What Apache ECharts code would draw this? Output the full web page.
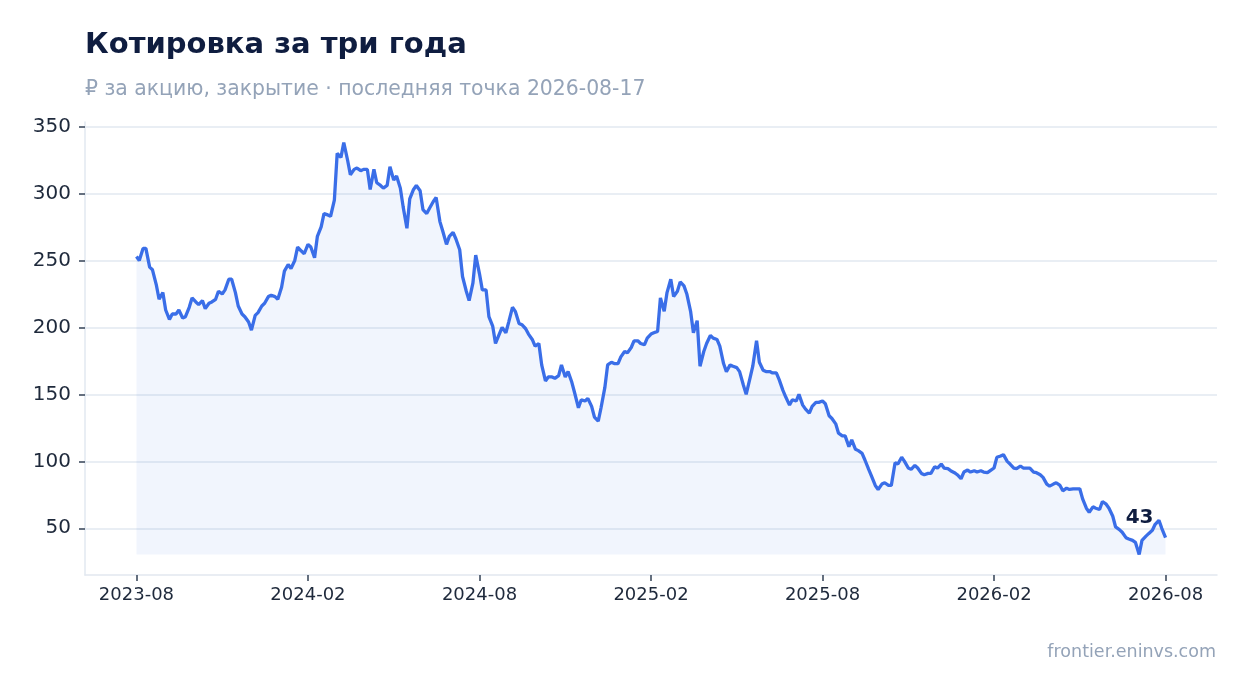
<!DOCTYPE html>
<html>
<head>
<meta charset="utf-8">
<title>Котировка за три года</title>
<script src="https://cdn.jsdelivr.net/npm/echarts@6.0.0/dist/echarts.min.js"></script>
<style>
  html, body { margin: 0; padding: 0; background: #ffffff; }
  #chart { width: 1247px; height: 693px; }
</style>
</head>
<body>
<div id="chart"></div>
<script>
// первая точка ряда, дальше замеры по понедельникам и четвергам
var startDate = [2023, 7, 21];

// цена закрытия, ₽ за акцию
var prices = [
  253, 250, 259, 259, 245, 243, 232, 221, 226, 213,
  206, 210, 210, 213, 207, 208, 215, 222, 219, 217,
  220, 214, 218, 219, 221, 227, 225, 228, 236, 236,
  226, 216, 210, 208, 204, 198, 209, 211, 216, 218,
  223, 224, 223, 221, 230, 242, 247, 244, 250, 260,
  257, 255, 262, 260, 252, 268, 275, 285, 284, 283,
  295, 330, 327, 338, 325, 314, 318, 319, 317, 318,
  318, 303, 318, 308, 306, 304, 306, 320, 310, 313,
  304, 290, 274, 296, 303, 306, 302, 288, 285, 289,
  294, 297, 279, 272, 262, 268, 271, 266, 258, 238,
  227, 220, 233, 254, 240, 228, 228, 208, 201, 188,
  195, 200, 196, 204, 215, 212, 203, 202, 199, 195,
  191, 186, 188, 172, 160, 163, 163, 162, 164, 172,
  163, 167, 159, 151, 140, 146, 145, 147, 141, 133,
  130, 140, 155, 172, 174, 173, 173, 178, 182, 181,
  185, 190, 190, 188, 187, 192, 195, 196, 197, 222,
  212, 226, 236, 223, 227, 234, 231, 225, 212, 196,
  205, 171, 182, 188, 194, 192, 191, 186, 173, 167,
  172, 171, 170, 167, 157, 150, 162, 171, 190, 174,
  168, 167, 167, 166, 166, 161, 153, 148, 142, 146,
  145, 150, 142, 139, 136, 141, 144, 144, 145, 143,
  134, 132, 128, 121, 119, 119, 111, 116, 109, 108,
  106, 101, 94, 89, 82, 79, 83, 84, 82, 82,
  99, 98, 103, 100, 95, 94, 97, 95, 91, 90,
  91, 91, 96, 95, 98, 95, 94.5, 93, 91.5, 90,
  87, 92, 93.5, 92, 93, 92, 93, 92, 91.5, 93,
  95, 103, 104, 105, 100, 98, 95, 94.5, 96.5, 95,
  95, 95, 92, 91.5, 90, 88, 83, 81.5, 83, 84,
  82, 78, 80, 79, 79.5, 79.5, 79.5, 72, 65, 62,
  66, 65, 64, 70, 68, 65, 59, 51, 49, 47,
  43, 42, 41, 39.5, 30.5, 41, 44, 46, 48.5, 53,
  56, 50, 43
];

// подписи оси X стоят через каждые 26 недель от первой точки
var xTickIndex = [0, 52, 104, 156, 208, 260, 312];
var yTicks = [50, 100, 150, 200, 250, 300, 350];

var DAY = 24 * 3600 * 1000;
var t0 = Date.UTC(startDate[0], startDate[1], startDate[2]);
var dates = prices.map(function (p, i) {
  return t0 + (Math.floor(i / 2) * 7 + (i % 2 ? 3 : 0)) * DAY;
});
var points = prices.map(function (p, i) { return [dates[i], p]; });
var xTicks = xTickIndex.map(function (i) { return dates[i]; });
var last = points[points.length - 1];
var floorValue = Math.min.apply(null, prices);

function monthLabel(v) {
  var d = new Date(v);
  var m = d.getUTCMonth() + 1;
  return d.getUTCFullYear() + '-' + (m < 10 ? '0' + m : m);
}

var myChart = echarts.init(document.getElementById('chart'));

var font = 'DejaVu Sans, sans-serif';

var option = {
  backgroundColor: '#ffffff',
  animation: false,
  textStyle: { fontFamily: font },
  title: [
    {
      text: 'Котировка за три года',
      left: 80,
      top: 26,
      textStyle: { fontSize: 29, fontWeight: 'bold', color: '#0f1d40', fontFamily: font }
    },
    {
      text: '₽ за акцию, закрытие · последняя точка 2026-08-17',
      left: 80,
      top: 75,
      textStyle: { fontSize: 20.4, fontWeight: 'normal', color: '#94a3b8', fontFamily: font }
    }
  ],
  graphic: [{
    type: 'text',
    right: 31,
    top: 643,
    style: { text: 'frontier.eninvs.com', fill: '#94a3b8', fontSize: 17.5, fontFamily: font }
  }],
  grid: { left: 85, right: 30, top: 122, bottom: 118 },
  xAxis: {
    type: 'value',
    min: function (v) { return v.min - (v.max - v.min) * 0.05; },
    max: function (v) { return v.max + (v.max - v.min) * 0.05; },
    axisLine: { show: true, lineStyle: { color: '#e2e8f0', width: 1.5 } },
    axisTick: { show: true, customValues: xTicks, length: 6, lineStyle: { color: '#334155', width: 1.5 } },
    axisLabel: { customValues: xTicks, formatter: monthLabel, fontSize: 18, color: '#1e293b', margin: 11 },
    splitLine: { show: false }
  },
  yAxis: {
    type: 'value',
    min: function (v) { return v.min - (v.max - v.min) * 0.05; },
    max: function (v) { return v.max + (v.max - v.min) * 0.05; },
    axisLine: { show: true, lineStyle: { color: '#e2e8f0', width: 1.5 } },
    axisTick: { show: true, customValues: yTicks, length: 6, lineStyle: { color: '#334155', width: 1.5 } },
    axisLabel: { customValues: yTicks, fontSize: 20, color: '#1e293b', margin: 14 },
    splitLine: { show: true, lineStyle: { color: '#e2e8f0', width: 1.5 } }
  },
  series: [{
    type: 'line',
    data: points,
    showSymbol: false,
    smooth: false,
    lineStyle: { color: '#3a6ee8', width: 3.3 },
    itemStyle: { color: '#3a6ee8' },
    areaStyle: { color: 'rgba(58,110,232,0.1)', origin: floorValue },
    markPoint: {
      symbol: 'circle',
      symbolSize: 1,
      itemStyle: { color: 'rgba(0,0,0,0)' },
      label: {
        show: true,
        position: 'inside',
        offset: [-26, -20],
        formatter: String(last[1]),
        fontSize: 20,
        fontWeight: 'bold',
        color: '#0f1d40',
        fontFamily: font
      },
      data: [{ coord: last }]
    }
  }]
};

myChart.setOption(option);
</script>
</body>
</html>
